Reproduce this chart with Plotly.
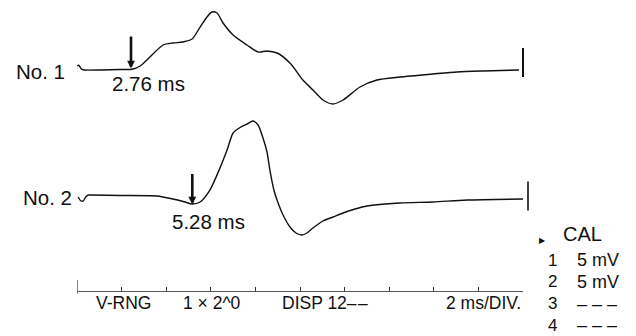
import plotly.graph_objects as go

# ---------------- data ----------------
# Trace No. 1 : time (ms) / amplitude (mV, relative to baseline)
t1 = [0.01, 0.08, 0.21, 0.31, 1.03, 1.93, 2.47, 2.83, 3.27, 3.86, 4.30, 4.75, 5.16,
      5.52, 5.83, 6.05, 6.28, 6.55, 7.00, 7.62, 8.12, 8.52, 8.97, 9.55, 10.13,
      10.58, 11.03, 11.48, 11.93, 12.69, 13.45, 14.48, 15.96, 17.04, 18.21, 19.82]
v1 = [0.69, 0.81, 0.12, 0.0, 0.0, 0.09, 0.12, 0.69, 2.24, 4.31, 4.66, 4.83, 5.34,
      7.41, 9.14, 10.0, 9.83, 8.10, 6.03, 4.31, 3.10, 3.28, 2.93, 1.21, -1.72,
      -3.45, -5.17, -5.86, -5.17, -2.93, -1.72, -1.21, -0.69, -0.34, -0.17, 0.0]

# Trace No. 2
t2 = [0.05, 0.18, 0.28, 0.39, 0.51, 0.60, 1.93, 3.59, 4.30, 4.84, 5.16, 5.52, 5.96,
      6.41, 6.73, 7.00, 7.35, 7.62, 7.89, 8.12, 8.34, 8.52, 8.65, 8.83, 8.97, 9.24,
      9.55, 9.82, 10.09, 10.31, 10.58, 11.03, 11.48, 11.93, 12.47, 13.00, 14.48,
      15.96, 17.49, 20.00]
v2 = [-0.17, -0.86, -0.86, -0.17, 0.17, 0.17, 0.09, 0.0, -0.52, -1.03, -1.38, -1.03,
      1.03, 4.83, 7.93, 10.86, 11.90, 12.41, 12.93, 12.24, 10.00, 7.59, 4.48, 1.03,
      -0.69, -3.28, -5.34, -6.38, -6.72, -6.38, -5.52, -4.31, -3.62, -2.93, -2.24,
      -1.72, -1.21, -1.03, -0.69, -0.52]

latencies = ["2.76 ms", "5.28 ms"]
trace_names = ["No. 1", "No. 2"]
bottom_labels = ["V-RNG", "1 \u00d7 2^0", "DISP 12\u2013\u200a\u2013", "2 ms/DIV."]
cal_channels = ["1", "2", "3", "4"]
cal_values = ["5 mV", "5 mV", "\u2013 \u2013 \u2013", "\u2013 \u2013 \u2013"]
CAL_MV = 5.0
SWEEP_MS = 20
DIV_MS = 2

# ---------------- layout helpers (pixel -> data) ----------------
W, H = 636, 336
X0, PX_MS = 77.0, 22.3
Y0, PX_MV = 70.0, 5.8
def tx(px):
    return (px - X0) / PX_MS
def vy(py):
    return (Y0 - py) / PX_MV
OFF2 = vy(196)

INK = "#101010"
FONT = "Liberation Sans, Arial, Helvetica, sans-serif"

fig = go.Figure()
fig.add_trace(go.Scatter(x=t1, y=v1, mode="lines",
                         line=dict(color=INK, width=1.4, shape="spline", smoothing=0.7),
                         hoverinfo="skip"))
fig.add_trace(go.Scatter(x=t2, y=[v + OFF2 for v in v2], mode="lines",
                         line=dict(color=INK, width=1.4, shape="spline", smoothing=0.7),
                         hoverinfo="skip"))
# calibration bars
b1 = vy(77)
fig.add_trace(go.Scatter(x=[tx(523), tx(523)], y=[b1, b1 + CAL_MV], mode="lines",
                         line=dict(color=INK, width=2), hoverinfo="skip"))
b2 = OFF2 - CAL_MV / 2
fig.add_trace(go.Scatter(x=[tx(528), tx(528)], y=[b2, b2 + CAL_MV], mode="lines",
                         line=dict(color=INK, width=1.6), hoverinfo="skip"))
# time axis left-end tick (on xaxis2)
fig.add_trace(go.Scatter(x=[0, 0], y=[vy(280), vy(294)], xaxis="x2", yaxis="y",
                         mode="lines", line=dict(color="#333", width=1.2),
                         hoverinfo="skip"))

ann = []
def txt(text, px, py, size, xanchor="center", family=FONT):
    ann.append(dict(text=text, x=tx(px), y=vy(py), xref="x", yref="y",
                    showarrow=False, xanchor=xanchor, yanchor="middle",
                    font=dict(family=family, size=size, color=INK)))

txt(trace_names[0], 40, 71, 20.5)
txt(latencies[0], 148, 83, 20.5)
txt(trace_names[1], 47, 197.5, 20.5)
txt(latencies[1], 208.5, 221, 20.5)

txt(bottom_labels[0], 123.5, 303, 17.5)
txt(bottom_labels[1], 211.5, 303, 17.5)
txt(bottom_labels[2], 325, 303, 17.5)
txt(bottom_labels[3], 523, 303, 17.5, xanchor="right")

txt("\u25b6", 542, 240, 8, family="DejaVu Sans")
txt("CAL", 561, 234, 20, xanchor="left")
row_y = [260, 281.5, 303.5, 325]
for ch, val, ry in zip(cal_channels, cal_values, row_y):
    txt(ch, 552, ry, 17)
    txt(val, 575, ry, 18, xanchor="left")

# arrows
for (px, top, tip) in [(131, 35, 68.5), (192.3, 172.5, 204.5)]:
    ann.append(dict(x=tx(px), y=vy(tip), ax=0, ay=-(tip - top), xref="x", yref="y",
                    axref="pixel", ayref="pixel", text="", showarrow=True,
                    arrowhead=2, arrowsize=0.6, arrowwidth=2.6, arrowcolor=INK))

fig.update_layout(
    width=W, height=H, margin=dict(l=0, r=0, t=0, b=0),
    paper_bgcolor="white", plot_bgcolor="rgba(0,0,0,0)", showlegend=False,
    annotations=ann,
    xaxis=dict(range=[tx(0), tx(W)], domain=[0, 1], visible=False, fixedrange=True),
    yaxis=dict(range=[vy(H), vy(0)], domain=[0, 1], visible=False, fixedrange=True),
    xaxis2=dict(range=[0, SWEEP_MS], domain=[X0 / W, (X0 + SWEEP_MS * PX_MS) / W],
                anchor="free", position=1 - 290.5 / H,
                showline=True, linecolor="#555", linewidth=1,
                ticks="inside", ticklen=4, tickcolor="#333", tickwidth=1,
                dtick=DIV_MS, tick0=0, showticklabels=False, showgrid=False,
                zeroline=False, fixedrange=True),
)
fig.write_html("out.html", config={"displayModeBar": False},
               post_script="document.body.style.margin='0';document.body.style.overflow='hidden';")
